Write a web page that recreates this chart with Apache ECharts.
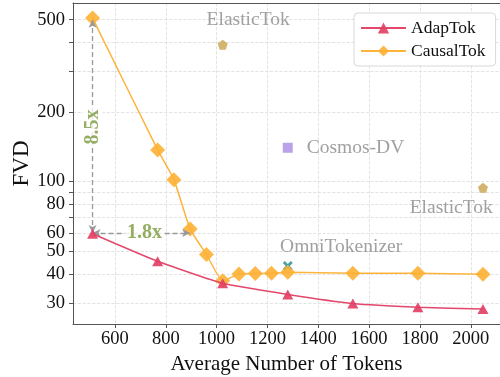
<!DOCTYPE html>
<html><head><meta charset="utf-8">
<script src="https://cdn.jsdelivr.net/npm/echarts@6/dist/echarts.min.js"></script>
<style>html,body{margin:0;padding:0;background:#fff}#c{width:500px;height:377px}</style>
</head><body><div id="c"></div>
<script>
// ---- data ----
const tokens = [512, 768, 832, 896, 960, 1024, 1088, 1152, 1216, 1280, 1536, 1792, 2048];
const causalFVD = [508, 137, 102, 62.4, 48.5, 37.3, 39.9, 40.1, 40.2, 40.6, 40.2, 40.2, 39.8];
const adapTokens = [512, 768, 1024, 1280, 1536, 1792, 2048];
const adapFVD = [59.6, 45.3, 36.4, 32.6, 29.8, 28.7, 28.2];
const elasticTok = [[1024, 390], [2048, 94]];
const cosmosDV = [[1280, 140]];
const omniTok = [[1280, 43.2]];
const xTicks = [600, 800, 1000, 1200, 1400, 1600, 1800, 2000];
const yLabelTicks = [30, 40, 50, 60, 80, 100, 200, 500];
const yGridTicks = [30, 40, 50, 60, 70, 80, 90, 100, 200, 300, 400, 500];
// annotation texts [x, y, text]
const textNotes = [[1124, 500, 'ElasticTok'], [1923, 77, 'ElasticTok'], [1490, 52.2, 'OmniTokenizer']];
const ratioNotes = [[513, 172, '8.5x', 90], [716, 60, '1.8x', 0]];
const vArrow = [[512, 60], [512, 500]];
const hArrow = [[512, 60], [896, 60]];

const serif = "'Liberation Serif', 'Times New Roman', Times, serif";
const gridColor = '#dcdcdc';
const chart = echarts.init(document.getElementById('c'), null, {renderer: 'canvas'});
const xMark = 'path://M2,0 L5,3 L8,0 L10,2 L7,5 L10,8 L8,10 L5,7 L2,10 L0,8 L3,5 L0,2 Z';

chart.setOption({
  animation: false,
  backgroundColor: '#fff',
  grid: {left: 73, right: 0, top: 3, bottom: 53, containLabel: false, outerBoundsMode: 'none'},
  legend: {
    orient: 'vertical', left: 354, top: 13,
    padding: [6, 10, 6, 6], itemGap: 5, itemWidth: 45, itemHeight: 14,
    backgroundColor: '#fff', borderColor: '#d8d8d8', borderWidth: 1, borderRadius: 4,
    textStyle: {fontFamily: serif, fontSize: 17.5, color: '#111'},
    data: ['AdapTok', 'CausalTok']
  },
  xAxis: [{
    type: 'value', min: 435, max: 2115, position: 'bottom',
    name: 'Average Number of Tokens', nameLocation: 'middle', nameGap: 29,
    nameTextStyle: {fontFamily: serif, fontSize: 21, color: '#111'},
    axisLine: {show: true, lineStyle: {color: '#555', width: 1}},
    axisTick: {show: true, length: 4, customValues: xTicks, lineStyle: {color: '#555'}},
    axisLabel: {customValues: xTicks, fontFamily: serif, fontSize: 18.5, color: '#111', margin: 6,
      formatter: v => String(Math.round(v))},
    splitLine: {show: true, lineStyle: {color: gridColor, type: 'dashed', width: 0.8}}
  }, {
    type: 'value', min: 435, max: 2115, position: 'top',
    axisLine: {show: true, lineStyle: {color: '#555', width: 1}},
    axisTick: {show: false}, axisLabel: {show: false}, splitLine: {show: false}
  }],
  yAxis: {
    type: 'log', logBase: 10, min: 24.3, max: 590,
    name: 'FVD', nameLocation: 'middle', nameGap: 40, nameMoveOverlap: false,
    nameTextStyle: {fontFamily: serif, fontSize: 23, color: '#111'},
    axisLine: {show: true, lineStyle: {color: '#555', width: 1}},
    axisTick: {show: true, length: 4, customValues: yGridTicks, lineStyle: {color: '#555'}},
    axisLabel: {customValues: yLabelTicks, fontFamily: serif, fontSize: 18.5, color: '#111', margin: 8,
      formatter: v => String(Math.round(v))},
    splitLine: {show: true, lineStyle: {color: gridColor, type: 'dashed', width: 0.8}},
    minorTick: {show: false}, minorSplitLine: {show: false}
  },
  series: [
    {
      name: 'CausalTok', type: 'line', z: 4,
      data: tokens.map((t, i) => [t, causalFVD[i]]),
      smooth: 0.15,
      symbol: 'diamond', symbolSize: 15,
      lineStyle: {color: '#FDB43D', width: 1.5},
      itemStyle: {color: 'rgba(253,176,52,0.9)'}
    },
    {
      name: 'AdapTok', type: 'line', z: 5,
      data: adapTokens.map((t, i) => [t, adapFVD[i]]),
      smooth: 0.15,
      symbol: 'triangle', symbolSize: [11, 10],
      lineStyle: {color: '#E4476C', width: 1.5},
      itemStyle: {color: 'rgba(226,64,102,0.92)'},
      markLine: {
        silent: true, symbol: ['arrow', 'arrow'], symbolSize: [6, 8],
        label: {show: false},
        lineStyle: {color: '#999', type: [5, 3], width: 1.3},
        data: [
          [{coord: vArrow[0]}, {coord: vArrow[1]}],
          [{coord: hArrow[0]}, {coord: hArrow[1]}]
        ]
      }
    },
    {
      name: 'ElasticTokMark', type: 'scatter', z: 3,
      data: elasticTok,
      symbol: 'path://M5,0 L10,3.8 L8.1,10 L1.9,10 L0,3.8 Z', symbolSize: 10,
      itemStyle: {color: '#C9A24C'}
    },
    {
      name: 'Cosmos-DV', type: 'scatter', z: 3,
      data: cosmosDV, symbol: 'rect', symbolSize: 10,
      itemStyle: {color: '#A78BE3'},
      label: {show: true, position: 'right', distance: 14, formatter: 'Cosmos-DV',
        fontFamily: serif, fontSize: 19.5, color: '#888'}
    },
    {
      name: 'OmniTokenizer', type: 'scatter', z: 3,
      data: omniTok, symbol: xMark, symbolSize: 10,
      itemStyle: {color: '#1B8A8A'}
    },
    {
      name: 'notes', type: 'scatter', z: 6, silent: true,
      data: textNotes, symbolSize: 0,
      label: {show: true, position: 'inside', formatter: p => p.data[2],
        fontFamily: serif, fontSize: 19.5, color: '#888'}
    },
    {
      name: 'ratios', type: 'scatter', z: 6, silent: true,
      data: ratioNotes.map(r => ({value: [r[0], r[1]], label: {rotate: r[3]}, name: r[2]})),
      symbolSize: 0,
      label: {show: true, position: 'inside', formatter: p => p.name,
        fontFamily: serif, fontSize: 20, fontWeight: 'bold', color: '#7A9A3C',
        backgroundColor: '#fff', padding: [0, 2]}
    }
  ]
});
</script></body></html>
